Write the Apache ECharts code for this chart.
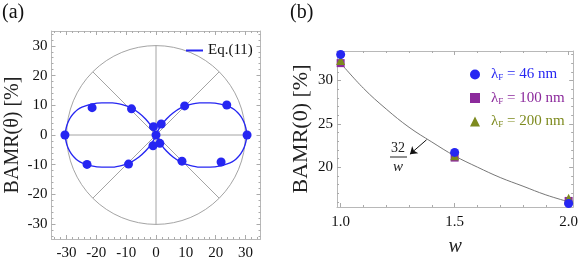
<!DOCTYPE html>
<html><head><meta charset="utf-8">
<script src="https://cdn.jsdelivr.net/npm/echarts@6/dist/echarts.min.js"></script>
<style>html,body{margin:0;padding:0;background:#fff}#c{width:581px;height:262px}</style>
</head><body><div id="c"></div>
<script>
// ---------- panel (a): BAMR(theta) polar plot ----------
const ptsX = [-30.5, -21.4, -8.2, -0.85, 1.75, 0, -1.0, 1.3, 9.6, 23.7, 30.5, 8.7, 21.8, -9.2, -23.1];
const ptsY = [0, 9.2, 8.8, 2.8, 3.7, 0, -3.6, -2.8, 9.8, 10.1, 0, -8.8, -9.1, -9.8, -9.9];
const rightLobeX = [0, 0.6, 1.8, 3.5, 5.7, 8.3, 11.3, 14.6, 18.1, 21.6, 24.8, 26.2, 27.4, 28.4, 29.2, 29.8, 30.2, 30.5, 30.2, 29.8, 29.2, 28.4, 27.4, 26.2, 24.8, 21.6, 18.1, 14.6, 11.3, 8.3, 5.7, 3.5, 1.8, 0.6, 0];
const rightLobeY = [0, -1.4, -3.3, -5.4, -7.4, -9.1, -10.2, -10.8, -10.8, -10.4, -9.4, -8.6, -7.5, -6.3, -4.9, -3.4, -1.8, 0, 1.8, 3.4, 4.9, 6.3, 7.5, 8.6, 9.4, 10.4, 10.8, 10.8, 10.2, 9.1, 7.4, 5.4, 3.3, 1.4, 0];
const leftLobeX = [0, -0.6, -1.8, -3.5, -5.7, -8.3, -11.3, -14.6, -18.1, -21.6, -24.8, -26.2, -27.4, -28.4, -29.2, -29.8, -30.2, -30.5, -30.2, -29.8, -29.2, -28.4, -27.4, -26.2, -24.8, -21.6, -18.1, -14.6, -11.3, -8.3, -5.7, -3.5, -1.8, -0.6, 0];
const leftLobeY = [0, -1.4, -3.3, -5.4, -7.4, -9.1, -10.2, -10.8, -10.8, -10.4, -9.4, -8.6, -7.5, -6.3, -4.9, -3.4, -1.8, 0, 1.8, 3.4, 4.9, 6.3, 7.5, 8.6, 9.4, 10.4, 10.8, 10.8, 10.2, 9.1, 7.4, 5.4, 3.3, 1.4, 0];
const aTicks = [-30, -20, -10, 0, 10, 20, 30];
const aMinor = [-34, -32, -28, -26, -24, -22, -18, -16, -14, -12, -8, -6, -4, -2, 2, 4, 6, 8, 12, 14, 16, 18, 22, 24, 26, 28, 32, 34];

// ---------- panel (b): BAMR(0) vs w ----------
const wValues = [1.0, 1.5, 2.0];
const bamr46 = [33.0, 21.7, 15.8];
const bamr100 = [32.0, 21.1, 16.1];
const bamr200 = [32.3, 21.3, 16.4];
const fitW = [1.0, 1.1, 1.2, 1.3, 1.4, 1.5, 1.6, 1.7, 1.8, 1.9, 2.0];
const fitY = [32.0, 29.1, 26.7, 24.6, 22.9, 21.3, 20.0, 18.8, 17.8, 16.8, 16.0];
const bXTicks = [1.0, 1.5, 2.0];
const bXMinor = [1.1, 1.2, 1.3, 1.4, 1.6, 1.7, 1.8, 1.9];
const bYTicks = [20, 25, 30];
const bYMinor = [16, 17, 18, 19, 21, 22, 23, 24, 26, 27, 28, 29, 31, 32, 33];

const SERIF = '"Liberation Serif", "DejaVu Serif", serif';
const BLUE = '#2626f2', PURPLE = '#8c2a9c', OLIVE = '#7d8a1e';
const zip = (a, b) => a.map((v, i) => [v, b[i]]);

function ax(grid, pos, min, max, ticks, len, label, line, fmt, extra) {
  const o = {
    type: 'value', gridIndex: grid, position: pos, min: min, max: max,
    axisLine: { show: line, onZero: false, lineStyle: { color: '#b8b8b8', width: 1 } },
    axisTick: { show: true, inside: true, length: len, customValues: ticks, lineStyle: { color: '#aaa', width: 1 } },
    axisLabel: { show: label, customValues: ticks, fontFamily: SERIF, fontSize: 15, color: '#111', formatter: fmt },
    splitLine: { show: false }, minorTick: { show: false }
  };
  return Object.assign(o, extra || {});
}
const intFmt = v => String(Math.round(v));
const decFmt = v => v.toFixed(1);

const xAxes = [
  ax(0, 'bottom', -35, 35, aTicks, 4, true, true, intFmt, { axisLabel: { customValues: aTicks, fontFamily: SERIF, fontSize: 15, color: '#111', formatter: intFmt, margin: 7 } }),
  ax(0, 'bottom', -35, 35, aMinor, 2, false, false),
  ax(0, 'top', -35, 35, aTicks, 4, false, true),
  ax(0, 'top', -35, 35, aMinor, 2, false, false),
  ax(1, 'bottom', 0.984, 2.02, bXTicks, 4, true, true, decFmt, {
    name: 'w', nameLocation: 'middle', nameGap: 30,
    nameTextStyle: { fontFamily: SERIF, fontSize: 20, fontStyle: 'italic', color: '#222' },
    axisLabel: { customValues: bXTicks, fontFamily: SERIF, fontSize: 15, color: '#111', formatter: decFmt, margin: 8 } }),
  ax(1, 'bottom', 0.984, 2.02, bXMinor, 2, false, false),
  ax(1, 'top', 0.984, 2.02, bXTicks, 4, false, true),
  ax(1, 'top', 0.984, 2.02, bXMinor, 2, false, false)
];
const yAxes = [
  ax(0, 'left', -35, 35, aTicks, 4, true, true, intFmt, {
    name: 'BAMR(θ) [%]', nameLocation: 'middle', nameGap: 29,
    nameTextStyle: { fontFamily: SERIF, fontSize: 20, color: '#222' },
    axisLabel: { customValues: aTicks, fontFamily: SERIF, fontSize: 15, color: '#111', formatter: intFmt, margin: 4 } }),
  ax(0, 'left', -35, 35, aMinor, 2, false, false),
  ax(0, 'right', -35, 35, aTicks, 4, false, true),
  ax(0, 'right', -35, 35, aMinor, 2, false, false),
  ax(1, 'left', 15.4, 33.4, bYTicks, 4, true, true, intFmt, {
    name: 'BAMR(0) [%]', nameLocation: 'middle', nameGap: 25,
    nameTextStyle: { fontFamily: SERIF, fontSize: 22, color: '#222' },
    axisLabel: { customValues: bYTicks, fontFamily: SERIF, fontSize: 15, color: '#111', formatter: intFmt, margin: 4 } }),
  ax(1, 'left', 15.4, 33.4, bYMinor, 2, false, false),
  ax(1, 'right', 15.4, 33.4, bYTicks, 4, false, true),
  ax(1, 'right', 15.4, 33.4, bYMinor, 2, false, false)
];

const chart = echarts.init(document.getElementById('c'), null, { renderer: 'canvas' });
const legRich = {
  l: { fontFamily: SERIF, fontSize: 15 },
  s: { fontFamily: SERIF, fontSize: 9, padding: [7, 0, 0, 0] },
  sp: { width: 6 }
};
chart.setOption({
  animation: false,
  backgroundColor: '#fff',
  grid: [
    { left: 51.5, top: 31, width: 209, height: 208 },
    { left: 337, top: 51, width: 238, height: 162 }
  ],
  polar: { center: [156, 135], radius: 89.4 },
  angleAxis: {
    type: 'value', min: 0, max: 360, interval: 45, startAngle: 0, z: 0,
    axisLine: { show: true, lineStyle: { color: '#9a9a9a', width: 0.9 } },
    axisTick: { show: false }, axisLabel: { show: false },
    splitLine: { show: true, lineStyle: { color: '#9a9a9a', width: 0.9 } }
  },
  radiusAxis: { min: 0, max: 30, show: false, splitLine: { show: false } },
  xAxis: xAxes,
  yAxis: yAxes,
  legend: [
    {
      data: ['Eq.(11)'], left: 181, top: 38, icon: 'rect', itemWidth: 17, itemHeight: 2,
      textStyle: { fontFamily: SERIF, fontSize: 15, color: '#111' }, itemGap: 4
    },
    {
      orient: 'vertical', left: 465, top: 62, itemWidth: 10, itemHeight: 10, itemGap: 8,
      data: [
        { name: '46 nm', icon: 'circle', textStyle: { color: BLUE } },
        { name: '100 nm', icon: 'rect', textStyle: { color: PURPLE } },
        { name: '200 nm', icon: 'triangle', textStyle: { color: OLIVE } }
      ],
      formatter: n => '{sp|}{l|λ}{s|F}{l| = ' + n + '}',
      textStyle: { fontFamily: SERIF, fontSize: 15, rich: legRich }
    }
  ],
  graphic: [
    { type: 'text', left: 2, top: 3, style: { text: '(a)', font: '20px ' + SERIF, fill: '#111' } },
    { type: 'text', left: 290, top: 3, style: { text: '(b)', font: '20px ' + SERIF, fill: '#111' } },
    { type: 'text', x: 398, y: 148, style: { text: '32', font: '14px ' + SERIF, fill: '#222', align: 'center', verticalAlign: 'middle' } },
    { type: 'line', shape: { x1: 390, y1: 157, x2: 407, y2: 157 }, style: { stroke: '#222', lineWidth: 1 } },
    { type: 'text', x: 398, y: 167, style: { text: 'w', font: 'italic 15px ' + SERIF, fill: '#222', align: 'center', verticalAlign: 'middle' } }
  ],
  series: [
    { name: 'Eq.(11)', type: 'line', xAxisIndex: 0, yAxisIndex: 0, data: zip(rightLobeX, rightLobeY), smooth: 0.3, showSymbol: false, symbol: 'none', lineStyle: { color: BLUE, width: 1.4 }, itemStyle: { color: BLUE }, z: 3 },
    { name: 'Eq.(11)', type: 'line', xAxisIndex: 0, yAxisIndex: 0, data: zip(leftLobeX, leftLobeY), smooth: 0.3, showSymbol: false, symbol: 'none', lineStyle: { color: BLUE, width: 1.4 }, itemStyle: { color: BLUE }, z: 3 },
    { name: 'points', type: 'scatter', xAxisIndex: 0, yAxisIndex: 0, data: zip(ptsX, ptsY), symbol: 'circle', symbolSize: 9, itemStyle: { color: BLUE, opacity: 1 }, z: 4 },
    {
      name: 'fit', type: 'line', xAxisIndex: 4, yAxisIndex: 4, data: zip(fitW, fitY), smooth: 0.4, showSymbol: false, symbol: 'none',
      lineStyle: { color: '#777', width: 1 }, z: 2,
      markLine: {
        silent: true, symbol: ['none', 'arrow'], symbolSize: 7, label: { show: false },
        lineStyle: { color: '#111', width: 1, type: 'solid' },
        data: [[{ coord: [1.377, 23.16] }, { coord: [1.304, 21.49] }]]
      }
    },
    { name: '100 nm', type: 'scatter', xAxisIndex: 4, yAxisIndex: 4, data: zip(wValues, bamr100), symbol: 'rect', symbolSize: 8, itemStyle: { color: PURPLE, opacity: 1 }, z: 3 },
    { name: '200 nm', type: 'scatter', xAxisIndex: 4, yAxisIndex: 4, data: zip(wValues, bamr200), symbol: 'triangle', symbolSize: 9, itemStyle: { color: OLIVE, opacity: 1 }, z: 4 },
    { name: '46 nm', type: 'scatter', xAxisIndex: 4, yAxisIndex: 4, data: zip(wValues, bamr46), symbol: 'circle', symbolSize: 9, itemStyle: { color: BLUE, opacity: 1 }, z: 5 }
  ]
});
</script></body></html>
